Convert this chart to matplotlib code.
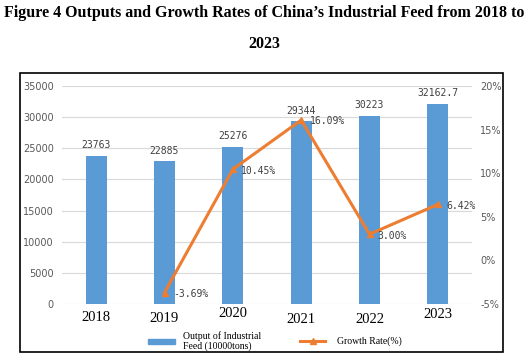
import matplotlib
matplotlib.use("Agg")
import matplotlib.pyplot as plt
from matplotlib.patches import Rectangle
from matplotlib.lines import Line2D
import matplotlib.transforms as mtransforms

years = ["2018", "2019", "2020", "2021", "2022", "2023"]
output = [23763, 22885, 25276, 29344, 30223, 32162.7]
output_labels = ["23763", "22885", "25276", "29344", "30223", "32162.7"]
growth_years = ["2019", "2020", "2021", "2022", "2023"]
growth = [-3.69, 10.45, 16.09, 3.00, 6.42]
growth_labels = ["-3.69%", "10.45%", "16.09%", "3.00%", "6.42%"]
left_ticks = [0, 5000, 10000, 15000, 20000, 25000, 30000, 35000]
right_ticks = [-5, 0, 5, 10, 15, 20]
year_offsets = [0, -1, 4, -2, -2, 3]  # small vertical jitter of year labels (px)

W, H = 529, 361
fig = plt.figure(figsize=(W / 100, H / 100), dpi=100)

def fx(x):
    return x / W

def fy(y):
    return 1 - y / H

bar_color = "#5B9BD5"
line_color = "#ED7D31"
label_color = "#404040"
serif = "Liberation Serif"
mono = "DejaVu Sans Mono"

# title
fig.text(0.5, fy(13), "Figure 4 Outputs and Growth Rates of China\u2019s Industrial Feed from 2018 to",
         ha="center", va="center", fontsize=11.5, fontweight="bold", family=serif)
fig.text(0.5, fy(44), "2023", ha="center", va="center", fontsize=11.5,
         fontweight="bold", family=serif)

# frame
fig.patches.append(Rectangle((fx(20), fy(352)), fx(503) - fx(20), fy(73) - fy(352),
                             transform=fig.transFigure, fill=False, edgecolor="black",
                             linewidth=1.2))

ax = fig.add_axes([fx(62), fy(304), fx(472) - fx(62), fy(86) - fy(304)])
x = list(range(len(years)))
ax.bar(x, output, width=0.31, color=bar_color, zorder=2)
ax.set_xlim(-0.5, len(years) - 0.5)
ax.set_ylim(0, 35000)
ax.set_yticks(left_ticks)
ax.set_yticklabels([str(t) for t in left_ticks])
ax.grid(axis="y", color="#D9D9D9", linewidth=0.8, zorder=0)
for s in ax.spines.values():
    s.set_visible(False)
ax.tick_params(axis="y", length=0, labelsize=7, labelcolor="#595959", pad=6)
ax.tick_params(axis="x", length=0, labelsize=10.5, pad=5)
ax.set_xticks(x)
ax.set_xticklabels(years, family=serif)
for lbl, off in zip(ax.get_xticklabels(), year_offsets):
    lbl.set_transform(lbl.get_transform() + mtransforms.ScaledTranslation(0, off / 100, fig.dpi_scale_trans))

for xi, v, t in zip(x, output, output_labels):
    ax.annotate(t, (xi, v), xytext=(0, 4), textcoords="offset points", ha="center",
                va="bottom", fontsize=7, color=label_color, family=mono)

ax2 = ax.twinx()
ax2.set_ylim(-5, 20)
ax2.set_yticks(right_ticks)
ax2.set_yticklabels([f"{t}%" for t in right_ticks])
for s in ax2.spines.values():
    s.set_visible(False)
ax2.tick_params(axis="y", length=0, labelsize=7, labelcolor="#595959", pad=6)
gx = [years.index(g) for g in growth_years]
ax2.plot(gx, growth, color=line_color, linewidth=2.2, marker="^", markersize=5, zorder=3)
for xi, v, t in zip(gx, growth, growth_labels):
    ax2.annotate(t, (xi, v), xytext=(6, -1), textcoords="offset points", ha="left",
                 va="center", fontsize=7, color=label_color, family=mono)

# legend
fig.patches.append(Rectangle((fx(148), fy(344)), fx(175) - fx(148), fy(339) - fy(344),
                             transform=fig.transFigure, color=bar_color))
fig.text(fx(183), fy(341), "Output of Industrial\nFeed (10000tons)", ha="left", va="center",
         fontsize=7, family=serif, linespacing=1.1)
fig.lines.append(Line2D([fx(300), fx(325)], [fy(341), fy(341)], transform=fig.transFigure,
                        color=line_color, linewidth=2.2))
fig.lines.append(Line2D([fx(312.5)], [fy(341)], transform=fig.transFigure,
                        color=line_color, marker="^", markersize=5, linestyle="none"))
fig.text(fx(337), fy(341), "Growth Rate(%)", ha="left", va="center", fontsize=7, family=serif)

fig.savefig("out.png", dpi=100)
